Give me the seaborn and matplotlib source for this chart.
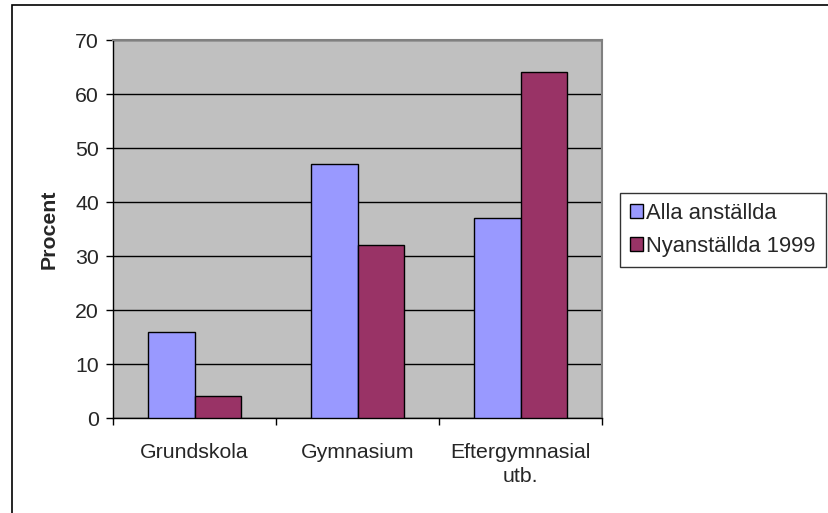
import matplotlib
matplotlib.use("Agg")
import matplotlib.pyplot as plt
import matplotlib.patches as mpatches
import seaborn as sns
import pandas as pd

categories = ["Grundskola", "Gymnasium", "Eftergymnasial\nutb."]
series_names = ["Alla anställda", "Nyanställda 1999"]
alla = [16, 47, 37]
nya = [4, 32, 64]
yticks = [0, 10, 20, 30, 40, 50, 60, 70]

df = pd.DataFrame({
    "Kategori": categories * 2,
    "Serie": [series_names[0]] * 3 + [series_names[1]] * 3,
    "Procent": alla + nya,
})

sns.set_theme(style="white")
plt.rcParams["font.family"] = ["Liberation Sans", "DejaVu Sans"]

FS = 15.3
W, H = 829, 513
fig = plt.figure(figsize=(W / 100, H / 100), dpi=100)
ax = fig.add_axes([113 / W, 1 - 418 / H, (602 - 113) / W, (418 - 40) / H])
ax.set_facecolor("#C0C0C0")

sns.barplot(data=df, x="Kategori", y="Procent", hue="Serie", order=categories,
            hue_order=series_names, palette=["#9999FF", "#993366"], saturation=1,
            width=0.573, edgecolor="black", linewidth=1, ax=ax, legend=False,
            zorder=3)

ax.set_ylim(0, 70)
ax.set_xlim(-0.5, 2.5)
ax.set_yticks(yticks)
ax.set_yticklabels([str(v) for v in yticks], fontsize=FS)
ax.yaxis.grid(True, color="black", linewidth=1)
ax.set_axisbelow(True)

ax.set_xticks([-0.5, 0.5, 1.5, 2.5])
ax.set_xticklabels([])
ax.set_xticks([0, 1, 2], minor=True)
ax.set_xticklabels(categories, minor=True, fontsize=FS, linespacing=1.3)
ax.tick_params(axis="x", which="minor", length=0, pad=18)
ax.tick_params(axis="x", which="major", direction="out", length=5, width=1, color="black", bottom=True)
ax.tick_params(axis="y", direction="out", length=5, width=1, color="black", left=True, pad=5)

ax.set_xlabel("")
ax.set_ylabel("Procent", fontsize=FS, fontweight="bold", labelpad=12)

for side in ["left", "bottom"]:
    ax.spines[side].set_color("black")
    ax.spines[side].set_linewidth(1)
for side in ["top", "right"]:
    ax.spines[side].set_color("#808080")
    ax.spines[side].set_linewidth(1.5)

handles = [mpatches.Patch(facecolor=c, edgecolor="black", linewidth=1, label=n)
           for c, n in zip(["#9999FF", "#993366"], series_names)]
leg = fig.legend(handles=handles, loc="upper left",
                 bbox_to_anchor=(620 / W, 1 - 193 / H), fontsize=FS + 0.5,
                 frameon=True, fancybox=False, edgecolor="black",
                 handlelength=0.6, handleheight=0.6, handletextpad=0.15,
                 borderpad=0.45, labelspacing=0.55, borderaxespad=0)
leg.get_frame().set_linewidth(1)

border = mpatches.Rectangle((12 / W, -0.1), 1.2, 1.1 - 5 / H, transform=fig.transFigure,
                            fill=False, edgecolor="black", linewidth=1.2, clip_on=False)
fig.patches.append(border)

fig.savefig("out.png", dpi=100)
